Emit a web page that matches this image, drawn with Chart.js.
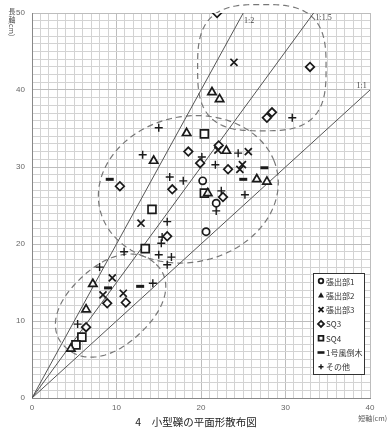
<!DOCTYPE html>
<html lang="ja">
<head>
<meta charset="UTF-8">
<title>小型礫の平面形散布図</title>
<script src="https://cdn.jsdelivr.net/npm/chart.js"></script>
<style>
  html, body { margin: 0; padding: 0; background: #fff; }
</style>
</head>
<body>
<canvas id="scatter" width="389" height="428"></canvas>
<script>
// short axis (x, cm) / long axis (y, cm) for each group
const h1Short = [20.2, 21.8, 20.6];
const h1Long  = [28.2, 25.3, 21.6];

const h2Short = [21.3, 22.2, 18.3, 14.4, 23.0, 26.6, 27.8, 20.8, 7.2, 6.4, 4.6];
const h2Long  = [39.7, 38.8, 34.4, 30.8, 32.1, 28.4, 28.1, 26.6, 14.8, 11.5, 6.4];

const h3Short = [23.9, 22.0, 25.6, 24.9, 24.6, 12.9, 9.5, 8.4, 10.8];
const h3Long  = [43.6, 32.2, 32.0, 30.3, 29.7, 22.7, 15.6, 13.4, 13.6];

const sq3Short = [21.9, 32.9, 28.4, 27.8, 18.5, 10.4, 16.6, 19.9, 23.2, 22.1, 22.6, 16.0, 8.9, 11.1, 6.4];
const sq3Long  = [50.0, 43.0, 37.1, 36.4, 32.0, 27.5, 27.1, 30.5, 29.7, 32.8, 26.1, 21.0, 12.3, 12.4, 9.2];

const sq4Short = [20.4, 14.2, 13.4, 20.4, 5.9, 5.2];
const sq4Long  = [34.3, 24.5, 19.4, 26.6, 7.9, 6.9];

const treeShort = [9.2, 27.5, 25.0, 12.8, 9.0];
const treeLong  = [28.4, 29.9, 28.4, 14.5, 14.3];

const otherShort = [15.0, 13.1, 30.8, 16.3, 17.9, 24.4, 20.1, 21.7, 22.4, 25.2, 21.8, 16.0, 15.4, 15.3, 10.9, 15.0, 16.5, 16.0, 8.0, 14.3, 5.4];
const otherLong  = [35.1, 31.6, 36.4, 28.7, 28.2, 31.8, 31.3, 30.3, 26.9, 26.4, 24.3, 22.9, 20.9, 20.1, 19.0, 18.6, 18.3, 17.3, 17.0, 14.9, 9.6];

const groupNames = ['張出部1', '張出部2', '張出部3', 'SQ3', 'SQ4', '1号風倒木', 'その他'];

// reference ratio lines  (short : long)
const ratioLabels = ['1:2', '1:1.5', '1:1'];
const ratioValues = [2, 1.5, 1];

const xTickLabels = ['0', '10', '20', '30', '40'];
const yTickLabels = ['0', '10', '20', '30', '40', '50'];

// dashed groupings drawn round the clusters (data units)
const zones = [
  { cx: 27.2, cy: 42.9, rx: 7.6, ry: 8.2, rot: 0, p: 3 },
  { cx: 18.5, cy: 27.1, rx: 10.8, ry: 9.4, rot: 20, p: 2 },
  { cx: 9.3, cy: 12.0, rx: 7.6, ry: 5.0, rot: 47, p: 2.2 }
];

const pts = (xs, ys) => xs.map((x, i) => ({ x: x, y: ys[i] }));
const ink = '#1a1a1a';

function group(idx, xs, ys, style, radius, bw) {
  return {
    label: groupNames[idx],
    data: pts(xs, ys),
    pointStyle: style,
    pointRadius: radius,
    pointBorderWidth: bw,
    borderColor: ink,
    backgroundColor: 'rgba(255,255,255,0.85)',
    showLine: false,
    order: 1
  };
}

const lineSets = ratioValues.map((r, i) => {
  const endX = Math.min(40, 50 / r);
  return {
    label: ratioLabels[i],
    data: [{ x: 0, y: 0 }, { x: endX, y: endX * r }],
    showLine: true,
    borderColor: '#555',
    borderWidth: 1,
    pointRadius: 0,
    order: 10
  };
});

const zonePlugin = {
  id: 'zones',
  beforeDatasetsDraw(chart) {
    const { ctx, scales } = chart;
    ctx.save();
    ctx.strokeStyle = '#777';
    ctx.lineWidth = 1.2;
    ctx.setLineDash([6, 4]);
    zones.forEach(z => {
      const th = z.rot * Math.PI / 180;
      ctx.beginPath();
      for (let k = 0; k <= 240; k++) {
        const t = k / 240 * Math.PI * 2;
        const c = Math.cos(t), s = Math.sin(t);
        const u = z.rx * Math.sign(c) * Math.pow(Math.abs(c), 2 / z.p);
        const v = z.ry * Math.sign(s) * Math.pow(Math.abs(s), 2 / z.p);
        const x = z.cx + u * Math.cos(th) - v * Math.sin(th);
        const y = z.cy + u * Math.sin(th) + v * Math.cos(th);
        const px = scales.x.getPixelForValue(x), py = scales.y.getPixelForValue(y);
        if (k === 0) ctx.moveTo(px, py); else ctx.lineTo(px, py);
      }
      ctx.closePath();
      ctx.stroke();
    });
    ctx.restore();
  }
};

function legendMark(ctx, i, x, y) {
  ctx.save();
  ctx.strokeStyle = ink;
  ctx.fillStyle = ink;
  ctx.lineWidth = 1.8;
  ctx.beginPath();
  switch (i) {
    case 0: ctx.arc(x, y, 2.3, 0, Math.PI * 2); ctx.stroke(); break;
    case 1: ctx.moveTo(x, y - 3); ctx.lineTo(x + 3, y + 2.3); ctx.lineTo(x - 3, y + 2.3); ctx.closePath(); ctx.fill(); break;
    case 2: ctx.moveTo(x - 2.5, y - 2.5); ctx.lineTo(x + 2.5, y + 2.5); ctx.moveTo(x + 2.5, y - 2.5); ctx.lineTo(x - 2.5, y + 2.5); ctx.stroke(); break;
    case 3: ctx.moveTo(x, y - 3); ctx.lineTo(x + 3, y); ctx.lineTo(x, y + 3); ctx.lineTo(x - 3, y); ctx.closePath(); ctx.stroke(); break;
    case 4: ctx.rect(x - 2.4, y - 2.4, 4.8, 4.8); ctx.stroke(); break;
    case 5: ctx.fillRect(x - 3.5, y - 1.3, 7, 2.6); break;
    case 6: ctx.lineWidth = 1.4; ctx.moveTo(x - 2.5, y); ctx.lineTo(x + 2.5, y); ctx.moveTo(x, y - 2.5); ctx.lineTo(x, y + 2.5); ctx.stroke(); break;
  }
  ctx.restore();
}

const decorPlugin = {
  id: 'decor',
  afterDatasetsDraw(chart) {
    const { ctx, scales, chartArea } = chart;
    ctx.save();
    // ratio line labels
    ctx.fillStyle = '#444';
    ctx.font = '8px "Liberation Serif", serif';
    ctx.textAlign = 'center';
    ctx.textBaseline = 'middle';
    const labelAt = [[25.7, 49.0], [34.5, 49.4], [39.0, 40.5]];
    ratioLabels.forEach((t, i) => {
      ctx.fillText(t, scales.x.getPixelForValue(labelAt[i][0]), scales.y.getPixelForValue(labelAt[i][1]));
    });

    // legend box
    const lx = chartArea.right - 57, ly = chartArea.top + 260, lw = 51, lh = 101;
    ctx.fillStyle = '#fff';
    ctx.fillRect(lx, ly, lw, lh);
    ctx.strokeStyle = '#333';
    ctx.lineWidth = 1;
    ctx.strokeRect(lx + 0.5, ly + 0.5, lw, lh);
    ctx.font = '8px "Noto Sans CJK JP", sans-serif';
    ctx.textAlign = 'left';
    groupNames.forEach((n, i) => {
      const yy = ly + 8 + i * 14.3;
      legendMark(ctx, i, lx + 8, yy);
      ctx.fillStyle = '#333';
      ctx.fillText(n, lx + 13, yy + 0.5);
    });

    // axis titles
    ctx.fillStyle = '#555';
    ctx.font = '7px "Noto Sans CJK JP", sans-serif';
    ctx.textAlign = 'center';
    ctx.fillText('長', 12, 11);
    ctx.fillText('軸', 12, 19);
    ctx.save();
    ctx.translate(12, 29);
    ctx.rotate(Math.PI / 2);
    ctx.fillText('(cm)', 0, 0);
    ctx.restore();
    ctx.textAlign = 'right';
    ctx.fillText('短軸(cm)', 387, 418);

    // caption
    ctx.fillStyle = '#222';
    ctx.font = '10.5px "Noto Sans CJK JP", sans-serif';
    ctx.textAlign = 'center';
    ctx.fillText('4　小型礫の平面形散布図', 196, 422);
    ctx.restore();
  }
};

const tickFont = { family: '"Liberation Sans", Arial, sans-serif', size: 8 };

new Chart(document.getElementById('scatter'), {
  type: 'scatter',
  data: {
    datasets: [
      group(0, h1Short, h1Long, 'circle', 3.6, 1.7),
      group(1, h2Short, h2Long, 'triangle', 4.8, 1.7),
      group(2, h3Short, h3Long, 'crossRot', 5, 1.7),
      group(3, sq3Short, sq3Long, 'rectRot', 4.3, 1.7),
      group(4, sq4Short, sq4Long, 'rect', 5.6, 1.7),
      group(5, treeShort, treeLong, 'line', 4, 3),
      group(6, otherShort, otherLong, 'cross', 4, 1.4),
      ...lineSets
    ]
  },
  options: {
    responsive: false,
    animation: false,
    layout: { padding: { top: 13, right: 19, left: 0, bottom: 0 } },
    plugins: { legend: { display: false }, tooltip: { enabled: false } },
    scales: {
      x: {
        type: 'linear',
        min: 0, max: 40,
        afterFit: s => { s.height = 30; },
        border: { color: '#888' },
        grid: { color: c => (c.tick && c.tick.value % 10 === 0 ? '#bdbdbd' : '#d3d3d3'), drawTicks: false },
        ticks: {
          stepSize: 1, maxTicksLimit: 60, autoSkip: false, maxRotation: 0,
          padding: 5, color: '#666', font: tickFont,
          callback: v => (v % 10 === 0 ? xTickLabels[v / 10] : '')
        }
      },
      y: {
        type: 'linear',
        min: 0, max: 50,
        afterFit: s => { s.width = 32; },
        border: { color: '#888' },
        grid: { color: c => (c.tick && c.tick.value % 10 === 0 ? '#bdbdbd' : '#d3d3d3'), drawTicks: false },
        ticks: {
          stepSize: 1, maxTicksLimit: 60, autoSkip: false,
          padding: 7, color: '#666', font: tickFont,
          callback: v => (v % 10 === 0 ? yTickLabels[v / 10] : '')
        }
      }
    }
  },
  plugins: [zonePlugin, decorPlugin]
});
</script>
</body>
</html>
